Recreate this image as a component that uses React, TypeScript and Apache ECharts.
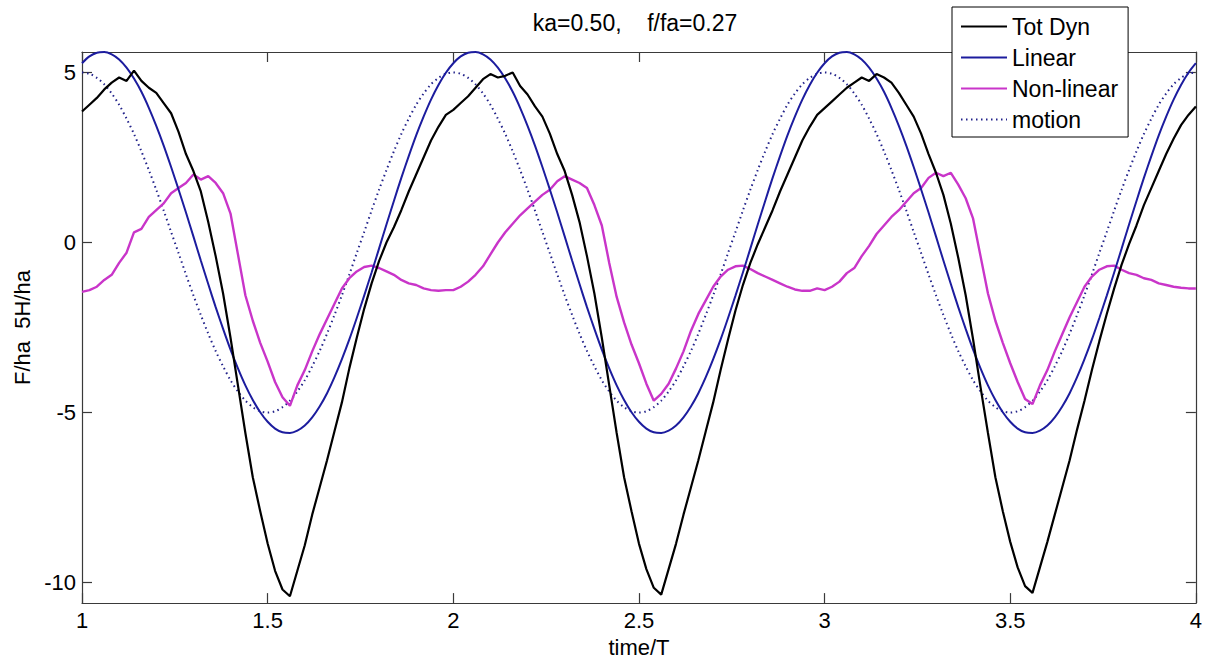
import React, { useEffect, useRef } from "react";
import * as echarts from "echarts";

const TIME_START = 1;
const TIME_STEP = 0.02;

const seriesNames = ["Tot Dyn", "Linear", "Non-linear", "motion"];
const titleText = "ka=0.50,    f/fa=0.27";
const xName = "time/T";
const yName = "F/ha  5H/ha";
const yTicks = [-10, -5, 0, 5];

const totDyn = [
  3.85, 4.05, 4.25, 4.5, 4.7, 4.85, 4.75, 5.05, 4.75, 4.55, 4.4, 4.1, 3.8, 3.25, 2.6, 2.1, 1.5, 0.6, -0.4, -1.5,
  -2.8, -4.2, -5.6, -6.9, -7.9, -8.85, -9.65, -10.2, -10.4, -9.65, -8.9, -8.0, -7.2, -6.4, -5.55, -4.7, -3.7, -2.8, -1.95, -1.2,
  -0.55, 0.0, 0.45, 0.95, 1.5, 2.0, 2.5, 3.0, 3.4, 3.75,
  3.9, 4.1, 4.3, 4.55, 4.8, 4.95, 4.85, 4.9, 5.0, 4.6, 4.35, 4.0, 3.7, 3.2, 2.6, 2.1, 1.4, 0.6, -0.4, -1.5,
  -2.8, -4.2, -5.6, -6.9, -7.9, -8.85, -9.6, -10.15, -10.35, -9.6, -8.85, -8.0, -7.2, -6.4, -5.55, -4.7, -3.75, -2.85, -2.0, -1.25,
  -0.6, -0.05, 0.45, 0.95, 1.5, 2.0, 2.5, 3.0, 3.4, 3.75,
  3.95, 4.15, 4.35, 4.55, 4.7, 4.85, 4.75, 4.95, 4.85, 4.7, 4.4, 4.05, 3.7, 3.2, 2.6, 2.05, 1.4, 0.55, -0.45, -1.55,
  -2.85, -4.25, -5.6, -6.9, -7.9, -8.8, -9.55, -10.1, -10.3, -9.55, -8.8, -8.0, -7.2, -6.4, -5.5, -4.65, -3.75, -2.9, -2.1, -1.35,
  -0.65, -0.05, 0.5, 1.1, 1.6, 2.1, 2.6, 3.05, 3.45, 3.75,
  4.0,
];

const linear = [
  5.27, 5.47, 5.58, 5.6, 5.53, 5.38, 5.14, 4.82, 4.43, 3.96, 3.43, 2.85, 2.22, 1.56, 0.88, 0.18, -0.53, -1.22, -1.9, -2.54,
  -3.15, -3.7, -4.2, -4.63, -4.99, -5.27, -5.47, -5.58, -5.6, -5.53, -5.38, -5.14, -4.82, -4.43, -3.96, -3.43, -2.85, -2.22, -1.56, -0.88,
  -0.18, 0.53, 1.22, 1.9, 2.54, 3.15, 3.7, 4.2, 4.63, 4.99,
  5.27, 5.47, 5.58, 5.6, 5.53, 5.38, 5.14, 4.82, 4.43, 3.96, 3.43, 2.85, 2.22, 1.56, 0.88, 0.18, -0.53, -1.22, -1.9, -2.54,
  -3.15, -3.7, -4.2, -4.63, -4.99, -5.27, -5.47, -5.58, -5.6, -5.53, -5.38, -5.14, -4.82, -4.43, -3.96, -3.43, -2.85, -2.22, -1.56, -0.88,
  -0.18, 0.53, 1.22, 1.9, 2.54, 3.15, 3.7, 4.2, 4.63, 4.99,
  5.27, 5.47, 5.58, 5.6, 5.53, 5.38, 5.14, 4.82, 4.43, 3.96, 3.43, 2.85, 2.22, 1.56, 0.88, 0.18, -0.53, -1.22, -1.9, -2.54,
  -3.15, -3.7, -4.2, -4.63, -4.99, -5.27, -5.47, -5.58, -5.6, -5.53, -5.38, -5.14, -4.82, -4.43, -3.96, -3.43, -2.85, -2.22, -1.56, -0.88,
  -0.18, 0.53, 1.22, 1.9, 2.54, 3.15, 3.7, 4.2, 4.63, 4.99,
  5.27,
];

const nonLinear = [
  -1.45, -1.4, -1.3, -1.1, -0.95, -0.6, -0.3, 0.3, 0.4, 0.75, 0.95, 1.15, 1.45, 1.6, 1.75, 2.0, 1.85, 1.95, 1.75, 1.45,
  0.85, -0.35, -1.55, -2.3, -2.95, -3.5, -4.1, -4.55, -4.8, -4.2, -3.75, -3.2, -2.7, -2.25, -1.8, -1.35, -1.05, -0.85, -0.72, -0.68,
  -0.75, -0.85, -0.95, -1.1, -1.2, -1.25, -1.35, -1.4, -1.42, -1.4,
  -1.4, -1.3, -1.15, -0.95, -0.7, -0.35, 0.0, 0.3, 0.55, 0.8, 1.0, 1.2, 1.4, 1.55, 1.8, 1.95, 1.85, 1.75, 1.6, 1.1,
  0.5, -0.6, -1.6, -2.35, -3.0, -3.55, -4.15, -4.65, -4.45, -4.15, -3.7, -3.2, -2.6, -2.1, -1.7, -1.3, -1.0, -0.8, -0.7, -0.68,
  -0.78, -0.9, -1.0, -1.1, -1.2, -1.3, -1.38, -1.42, -1.42, -1.35,
  -1.4, -1.3, -1.15, -0.9, -0.75, -0.4, -0.1, 0.25, 0.5, 0.75, 0.95, 1.2, 1.45, 1.6, 1.9, 2.05, 1.95, 2.05, 1.7, 1.3,
  0.7, -0.4, -1.5, -2.3, -2.95, -3.55, -4.1, -4.6, -4.75, -4.2, -3.75, -3.2, -2.7, -2.2, -1.75, -1.3, -1.0, -0.8, -0.7, -0.68,
  -0.8, -0.9, -0.95, -1.05, -1.1, -1.2, -1.25, -1.3, -1.33, -1.35,
  -1.35,
];

const motion = [
  5.0, 4.96, 4.84, 4.65, 4.38, 4.05, 3.64, 3.19, 2.68, 2.13, 1.55, 0.94, 0.31, -0.31, -0.94, -1.55, -2.13, -2.68, -3.19, -3.64,
  -4.05, -4.38, -4.65, -4.84, -4.96, -5.0, -4.96, -4.84, -4.65, -4.38, -4.05, -3.64, -3.19, -2.68, -2.13, -1.55, -0.94, -0.31, 0.31, 0.94,
  1.55, 2.13, 2.68, 3.19, 3.64, 4.05, 4.38, 4.65, 4.84, 4.96,
  5.0, 4.96, 4.84, 4.65, 4.38, 4.05, 3.64, 3.19, 2.68, 2.13, 1.55, 0.94, 0.31, -0.31, -0.94, -1.55, -2.13, -2.68, -3.19, -3.64,
  -4.05, -4.38, -4.65, -4.84, -4.96, -5.0, -4.96, -4.84, -4.65, -4.38, -4.05, -3.64, -3.19, -2.68, -2.13, -1.55, -0.94, -0.31, 0.31, 0.94,
  1.55, 2.13, 2.68, 3.19, 3.64, 4.05, 4.38, 4.65, 4.84, 4.96,
  5.0, 4.96, 4.84, 4.65, 4.38, 4.05, 3.64, 3.19, 2.68, 2.13, 1.55, 0.94, 0.31, -0.31, -0.94, -1.55, -2.13, -2.68, -3.19, -3.64,
  -4.05, -4.38, -4.65, -4.84, -4.96, -5.0, -4.96, -4.84, -4.65, -4.38, -4.05, -3.64, -3.19, -2.68, -2.13, -1.55, -0.94, -0.31, 0.31, 0.94,
  1.55, 2.13, 2.68, 3.19, 3.64, 4.05, 4.38, 4.65, 4.84, 4.96,
  5.0,
];

const FONT = "'Liberation Sans', Arial, Helvetica, sans-serif";
const AXIS_COLOR = "#3a3a3a";

function toPairs(vals: number[]) {
  return vals.map((v, i) => [Number((TIME_START + i * TIME_STEP).toFixed(2)), v]);
}

export default function App() {
  const ref = useRef<HTMLDivElement>(null);

  useEffect(() => {
    document.body.style.margin = "0";
    if (!ref.current) return;
    const chart = echarts.init(ref.current, undefined, { renderer: "svg" });

    const axisLineCommon = { show: true, onZero: false, lineStyle: { color: AXIS_COLOR, width: 1.2 } };
    const tickCommon = { show: true, inside: true, length: 10, lineStyle: { color: AXIS_COLOR, width: 1.2 } };

    const option: any = {
      animation: false,
      backgroundColor: "#ffffff",
      textStyle: { fontFamily: FONT },
      grid: { left: 82, right: 8, top: 52, bottom: 56, containLabel: false },
      graphic: [
        {
          type: "text",
          x: 635,
          y: 23,
          style: {
            text: titleText,
            fontSize: 23,
            fontFamily: FONT,
            fill: "#000",
            align: "center",
            verticalAlign: "middle",
          },
        },
      ],
      legend: {
        data: seriesNames,
        orient: "vertical",
        left: 952,
        top: 7,
        padding: [8, 10, 6, 8],
        itemWidth: 46,
        itemHeight: 14,
        itemGap: 8,
        itemStyle: { opacity: 0 },
        borderColor: "#000",
        borderWidth: 1,
        borderRadius: 0,
        backgroundColor: "#fff",
        textStyle: { fontSize: 23, lineHeight: 23, color: "#000", fontFamily: FONT },
        selectedMode: false,
      },
      xAxis: [
        {
          type: "value",
          position: "bottom",
          min: 1,
          max: 4,
          interval: 0.5,
          name: xName,
          nameLocation: "middle",
          nameGap: 30,
          nameTextStyle: { fontSize: 22, color: "#000", fontFamily: FONT },
          axisLine: axisLineCommon,
          axisTick: tickCommon,
          axisLabel: { fontSize: 22, color: "#000", margin: 6, fontFamily: FONT },
          splitLine: { show: false },
        },
        {
          type: "value",
          position: "top",
          min: 1,
          max: 4,
          interval: 0.5,
          axisLine: axisLineCommon,
          axisTick: tickCommon,
          axisLabel: { show: false },
          splitLine: { show: false },
        },
      ],
      yAxis: [
        {
          type: "value",
          position: "left",
          min: -10.6,
          max: 5.6,
          name: yName,
          nameLocation: "middle",
          nameGap: 48,
          nameTextStyle: { fontSize: 22, color: "#000", fontFamily: FONT },
          axisLine: axisLineCommon,
          axisTick: { ...tickCommon, customValues: yTicks },
          axisLabel: { fontSize: 22, color: "#000", margin: 6, fontFamily: FONT, customValues: yTicks },
          splitLine: { show: false },
        },
        {
          type: "value",
          position: "right",
          min: -10.6,
          max: 5.6,
          axisLine: axisLineCommon,
          axisTick: { ...tickCommon, customValues: yTicks },
          axisLabel: { show: false, customValues: yTicks },
          splitLine: { show: false },
        },
      ],
      series: [
        {
          name: seriesNames[0],
          type: "line",
          data: toPairs(totDyn),
          showSymbol: false,
          symbol: "none",
          lineStyle: { color: "#000000", width: 2.2 },
          itemStyle: { color: "#000000" },
          z: 4,
        },
        {
          name: seriesNames[1],
          type: "line",
          data: toPairs(linear),
          showSymbol: false,
          symbol: "none",
          smooth: 0.3,
          lineStyle: { color: "#1c1c9e", width: 2 },
          itemStyle: { color: "#1c1c9e" },
          z: 3,
        },
        {
          name: seriesNames[2],
          type: "line",
          data: toPairs(nonLinear),
          showSymbol: false,
          symbol: "none",
          lineStyle: { color: "#c935c9", width: 2.4 },
          itemStyle: { color: "#c935c9" },
          z: 2,
        },
        {
          name: seriesNames[3],
          type: "line",
          data: toPairs(motion),
          showSymbol: false,
          symbol: "none",
          smooth: 0.3,
          lineStyle: { color: "#22228a", width: 2, type: [1.5, 3.5] },
          itemStyle: { color: "#22228a" },
          z: 1,
        },
      ],
    };

    chart.setOption(option);
    return () => chart.dispose();
  }, []);

  return <div ref={ref} style={{ width: 1205, height: 663 }} />;
}
